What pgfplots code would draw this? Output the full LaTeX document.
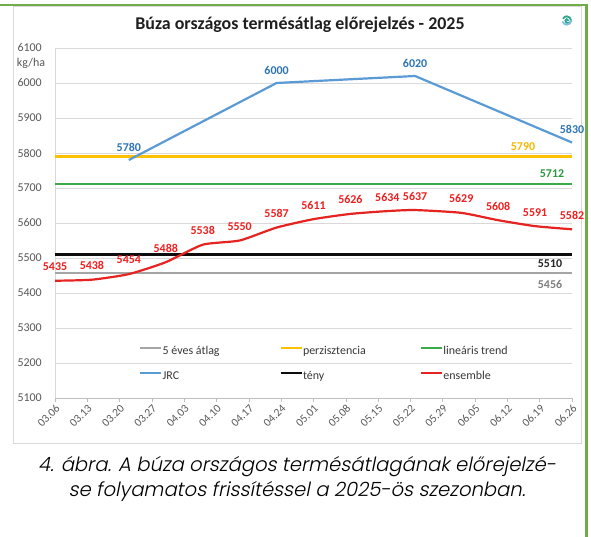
\documentclass[border=0pt]{standalone}
\usepackage{pgfplots}
\pgfplotsset{compat=1.18}
\usepackage{fontspec}
\setmainfont{Carlito}
\IfFontExistsTF{Poppins Light}
  {\newfontfamily\capfont{Poppins Light}[FakeSlant=0.2]}
  {\newfontfamily\capfont{Poppins}[FakeSlant=0.2]}

\definecolor{framegreen}{HTML}{70AD47}
\definecolor{boxgray}{HTML}{D9D9D9}
\definecolor{gridgray}{HTML}{D9D9D9}
\definecolor{axisgray}{HTML}{BFBFBF}
\definecolor{ticktext}{HTML}{595959}
\definecolor{avggray}{HTML}{A5A5A5}
\definecolor{avglabel}{HTML}{7F7F7F}
\definecolor{perzorange}{HTML}{FFC000}
\definecolor{perzlabel}{HTML}{F5B800}
\definecolor{trendgreen}{HTML}{3AAA4B}
\definecolor{trendlabel}{HTML}{2E9A3F}
\definecolor{jrcblue}{HTML}{5B9BD5}
\definecolor{jrclabel}{HTML}{2E75B6}
\definecolor{tenyblack}{HTML}{0D0D0D}
\definecolor{tenylabel}{HTML}{262626}
\definecolor{ensred}{HTML}{E52421}
\definecolor{enslabel}{HTML}{F01F1F}
\definecolor{logoteal}{HTML}{2FA58C}
\definecolor{logoblue}{HTML}{7CC0DC}
\definecolor{captext}{HTML}{3A3A3A}

\newcommand{\lbl}{\fontsize{12}{14}\selectfont\bfseries}
\newsavebox\capone
\newsavebox\captwo

\begin{document}%
\sbox\capone{\capfont\fontsize{19.5}{23}\selectfont 4. ábra. A búza országos termésátlagának előrejelzé-}%
\sbox\captwo{\capfont\fontsize{19.5}{23}\selectfont se folyamatos frissítéssel a 2025-ös szezonban.}%
\pgfmathsetmacro\capscale{519.9/\wd\capone}%
\begin{tikzpicture}
  % page frame and chart box
  \path[use as bounding box, fill=white] (0,0) rectangle (591bp,537bp);
  \draw[boxgray, line width=0.8bp] (13bp,94bp) rectangle (581bp,531bp);
  \draw[framegreen, line width=2.6bp] (0,532bp) -- (588bp,532bp);
  \draw[framegreen, line width=2.6bp] (586.7bp,533.3bp) -- (586.7bp,0);

  % title, unit, logo
  \node[font=\fontsize{18}{21}\selectfont\bfseries, text=black!88]
    at (300bp,512bp) {Búza országos termésátlag előrejelzés - 2025};
  \node[font=\fontsize{12}{14}\selectfont, text=ticktext] at (31bp,474bp) {kg/ha};
  \draw[logoteal, line width=1.8bp, line cap=round]
    (568.2bp,516.5bp) arc[start angle=0, end angle=180, radius=1.4bp]
    arc[start angle=180, end angle=360, radius=2.8bp]
    arc[start angle=0, end angle=150, radius=4.2bp];
  \draw[logoblue, line width=1.8bp, line cap=round]
    (571bp,516.5bp) arc[start angle=0, end angle=-160, radius=4.2bp];

  \begin{axis}[
    at={(55bp,139bp)}, anchor=south west,
    scale only axis, width=517bp, height=350bp,
    xmin=0, xmax=112, ymin=5100, ymax=6100,
    axis line style={axisgray},
    axis x line*=bottom, axis y line*=left,
    y axis line style={gridgray},
    xtick={0,7,...,112},
    xticklabels={03.06,03.13,03.20,03.27,04.03,04.10,04.17,04.24,05.01,05.08,05.15,05.22,05.29,06.05,06.12,06.19,06.26},
    ytick={5100,5200,...,6100},
    ymajorgrids, grid style={gridgray, line width=0.8bp},
    tick align=outside, major tick length=4bp,
    xtick style={axisgray, line width=0.6bp},
    ytick style={draw=none},
    /pgf/number format/1000 sep={},
    /pgf/number format/assume math mode=true,
    yticklabel style={font=\fontsize{12}{14}\selectfont, text=ticktext, inner sep=1bp, xshift=-8bp},
    xticklabel style={font=\fontsize{11.5}{13}\selectfont, text=ticktext, rotate=45, anchor=north east, inner sep=1bp},
    clip=false,
    legend columns=3,
    legend style={at={(0.1625,0.149)}, anchor=north west, draw=none, fill=none,
      font=\fontsize{12}{14}\selectfont, text=black!78,
      inner sep=0pt, row sep=14.5bp,
      nodes={inner sep=0pt, text height=8bp, text depth=2.5bp}},
    legend cell align=left,
    legend image code/.code={\draw[#1, line width=2.4bp] (0bp,3bp) -- (21bp,3bp);},
    legend image post style={line width=2.4bp},
    every axis plot/.append style={line width=2.2bp},
  ]
    % 5 éves átlag
    \addplot[avggray, point meta=explicit symbolic, nodes near coords,
      every node near coord/.append style={font=\lbl, text=avglabel, anchor=center, xshift=-22bp, yshift=-11bp}]
      coordinates {(0,5456)[] (112,5456)[5456]};
    \addlegendentry{\makebox[117bp][l]{5 éves átlag}}
    % perzisztencia
    \addplot[perzorange, point meta=explicit symbolic, nodes near coords,
      every node near coord/.append style={font=\lbl, text=perzlabel, anchor=center, xshift=-49bp, yshift=10bp}]
      coordinates {(0,5790)[] (112,5790)[5790]};
    \addlegendentry{\makebox[117bp][l]{perzisztencia}}
    % lineáris trend
    \addplot[trendgreen, point meta=explicit symbolic, nodes near coords,
      every node near coord/.append style={font=\lbl, text=trendlabel, anchor=center, xshift=-20bp, yshift=10bp}]
      coordinates {(0,5712)[] (112,5712)[5712]};
    \addlegendentry{lineáris trend}
    % JRC
    \addplot[jrcblue, point meta=y, nodes near coords,
      every node near coord/.append style={font=\lbl, text=jrclabel, anchor=center, yshift=13bp}]
      coordinates {(16,5780) (48,6000) (78,6020) (112,5830)};
    \addlegendentry{\makebox[117bp][l]{JRC}}
    % tény
    \addplot[tenyblack, point meta=explicit symbolic, nodes near coords,
      every node near coord/.append style={font=\lbl, text=tenylabel, anchor=center, xshift=-22bp, yshift=-9bp}]
      coordinates {(0,5510)[] (112,5510)[5510]};
    \addlegendentry{\makebox[117bp][l]{tény}}
    % ensemble
    \addplot[ensred, smooth, tension=0.35, point meta=y, nodes near coords,
      every node near coord/.append style={font=\lbl, text=enslabel, anchor=center, yshift=14bp}]
      coordinates {(0,5435) (8,5438) (16,5454) (24,5488) (32,5538) (40,5550) (48,5587)
        (56,5611) (64,5626) (72,5634) (78,5637) (88,5629) (96,5608) (104,5591) (112,5582)};
    \addlegendentry{ensemble}
  \end{axis}

  % caption
  \node[text=captext, anchor=base, inner sep=0pt]
    at (297bp,65bp) {\scalebox{\capscale}{\usebox\capone}};
  \node[text=captext, anchor=base, inner sep=0pt]
    at (297bp,40bp) {\scalebox{\capscale}{\usebox\captwo}};
\end{tikzpicture}%
\end{document}
